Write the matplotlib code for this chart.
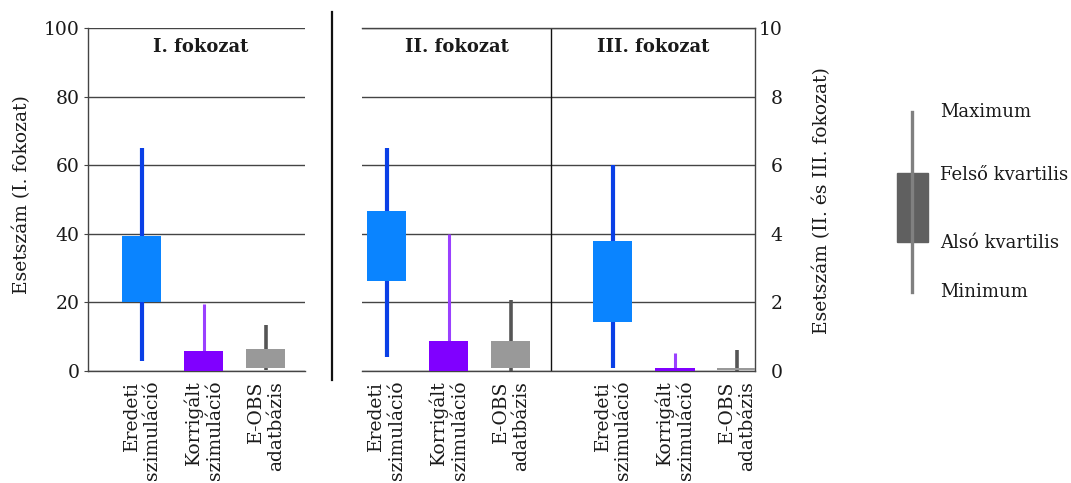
import matplotlib.pyplot as plt
from matplotlib.patches import Rectangle

plt.rcParams['font.family'] = ['DejaVu Serif']
plt.rcParams['font.size'] = 13.5
plt.rcParams['text.color'] = '#1a1a1a'
plt.rcParams['xtick.labelcolor'] = '#1a1a1a'
plt.rcParams['ytick.labelcolor'] = '#1a1a1a'

labels = ['Eredeti\nszimuláció', 'Korrigált\nszimuláció', 'E-OBS\nadatbázis']

# I. fokozat (0-100 scale): min, lower quartile, upper quartile, max
f1_min = [3, 0, 0.3]
f1_q1 = [20, 0, 0.9]
f1_q3 = [39.5, 5.8, 6.4]
f1_max = [65, 19.5, 13.3]

# II. fokozat (0-10 scale)
f2_min = [0.4, 0, 0]
f2_q1 = [2.62, 0, 0.08]
f2_q3 = [4.66, 0.88, 0.88]
f2_max = [6.5, 4.0, 2.07]

# III. fokozat (0-10 scale)
f3_min = [0.08, 0, 0]
f3_q1 = [1.42, 0, 0.03]
f3_q3 = [3.79, 0.1, 0.1]
f3_max = [6.0, 0.52, 0.61]

box_cols = ['#0a84ff', '#8000ff', '#999999']
wh_cols = ['#0a3fe6', '#9a40ff', '#555555']
wh_lw = [3.0, 2.2, 2.6]
grid_col = '#444444'
BW = 0.63

fig = plt.figure(figsize=(10.71, 4.83), dpi=100)

def draw_boxes(ax, pos, mn, q1, q3, mx):
    for i, p in enumerate(pos):
        ax.vlines(p, mn[i], mx[i], color=wh_cols[i], lw=wh_lw[i], zorder=3)
        ax.bar(p, q3[i] - q1[i], bottom=q1[i], width=BW, color=box_cols[i],
               zorder=4, linewidth=0)

def style(ax):
    ax.grid(axis='y', color=grid_col, lw=1.0, zorder=1)
    ax.set_axisbelow(True)
    for s in ax.spines.values():
        s.set_color(grid_col)
        s.set_linewidth(1.0)
    ax.tick_params(axis='x', length=0, pad=7)
    ax.tick_params(axis='y', length=3, color=grid_col, pad=3)

# left panel
ax1 = fig.add_axes([88 / 1071, 1 - 371 / 483, 217 / 1071, 343 / 483])
draw_boxes(ax1, [1, 2, 3], f1_min, f1_q1, f1_q3, f1_max)
ax1.set_xlim(0.13, 3.63)
ax1.set_ylim(0, 100)
ax1.set_yticks([0, 20, 40, 60, 80, 100])
style(ax1)
ax1.spines['top'].set_visible(False)
ax1.spines['right'].set_visible(False)
ax1.set_xticks([1, 2, 3])
ax1.set_xticklabels(labels, rotation=90, va='top', ha='center',
                    multialignment='right', linespacing=1.2)
ax1.text(0.52, 0.97, 'I. fokozat', transform=ax1.transAxes, ha='center',
         va='top', fontweight='bold', fontsize=13)

# right panel, II. and III. fokozat share one axis
ax2 = fig.add_axes([362 / 1071, 1 - 371 / 483, 393 / 1071, 343 / 483])
p2 = [1, 2, 3]
p3 = [4.645, 5.645, 6.645]
draw_boxes(ax2, p2, f2_min, f2_q1, f2_q3, f2_max)
draw_boxes(ax2, p3, f3_min, f3_q1, f3_q3, f3_max)
ax2.axvline(3.645, color='#111111', lw=1.0, zorder=2)
ax2.set_xlim(0.6, 6.935)
ax2.set_ylim(0, 10)
ax2.set_yticks([0, 2, 4, 6, 8, 10])
style(ax2)
ax2.spines['left'].set_visible(False)
ax2.yaxis.tick_right()
ax2.tick_params(axis='y', length=0, pad=20)
for t in ax2.get_yticklabels():
    t.set_ha('right')
ax2.set_xticks(p2 + p3)
ax2.set_xticklabels(labels * 2, rotation=90, va='top', ha='center',
                    multialignment='right', linespacing=1.2)
ax2.text(0.5 * 3.045 / 6.335, 0.97, 'II. fokozat', transform=ax2.transAxes,
         ha='center', va='top', fontweight='bold', fontsize=13)
ax2.text((3.045 + 0.5 * 3.29) / 6.335, 0.97, 'III. fokozat',
         transform=ax2.transAxes, ha='center', va='top', fontweight='bold',
         fontsize=13)

# axis titles
fig.text(22 / 1071, 1 - 195 / 483, 'Esetszám (I. fokozat)', rotation=90,
         ha='center', va='center')
fig.text(822 / 1071, 1 - 201 / 483, 'Esetszám (II. és III. fokozat)',
         rotation=90, ha='center', va='center')

# overlay for the separator line and the key
ov = fig.add_axes([0, 0, 1, 1], zorder=-1)
ov.set_xlim(0, 1071)
ov.set_ylim(483, 0)
ov.axis('off')
ov.plot([332, 332], [12, 380], color='#111111', lw=1.6)
ov.plot([912, 912], [112, 292], color='#808080', lw=2.4)
ov.add_patch(Rectangle((897, 173), 31, 69, color='#606060'))
key_txt = ['Maximum', 'Felső kvartilis', 'Alsó kvartilis', 'Minimum']
key_y = [112, 175, 243, 292]
for txt, y in zip(key_txt, key_y):
    ov.text(940, y, txt, va='center', ha='left', fontsize=13)

fig.savefig('out.png', dpi=100, facecolor='white')
